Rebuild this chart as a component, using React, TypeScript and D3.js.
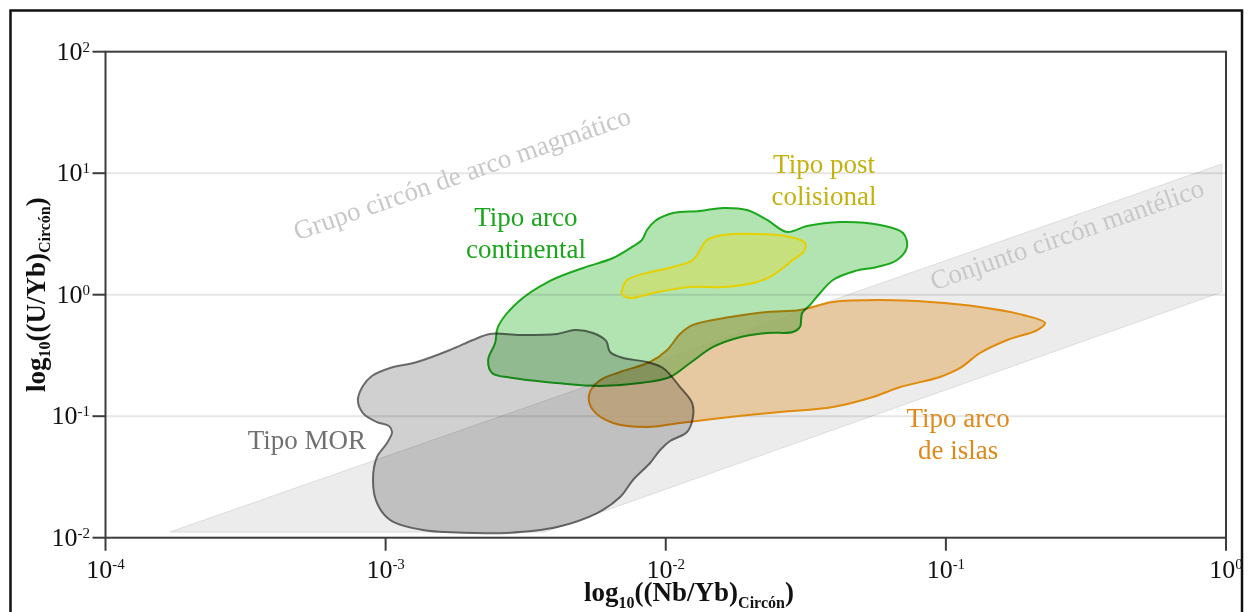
import React from 'react';
import * as d3 from 'd3';

const W = 1248;
const H = 612;
const FONT = '"Liberation Serif", "Times New Roman", serif';

// decade exponents for the axes
const xTickExps = [-4, -3, -2, -1, 0];
const yTickExps = [-2, -1, 0, 1, 2];
const gridExps = [-1, 0, 1];

// all outlines: [log10(Nb/Yb), log10(U/Yb)]
const bandOutline: [number, number][] = [
  [-3.77, -1.953], [-0.015, 1.075], [-0.015, 0.022], [-2.431, -1.953],
];

const morOutline: [number, number][] = [
  [-3.099, -0.867], [-3.081, -0.751], [-3.049, -0.669], [-2.984, -0.603], [-2.888, -0.554],
  [-2.770, -0.455], [-2.688, -0.373], [-2.627, -0.323], [-2.520, -0.332], [-2.388, -0.323],
  [-2.324, -0.291], [-2.260, -0.315], [-2.213, -0.381], [-2.199, -0.472], [-2.152, -0.521],
  [-2.067, -0.554], [-2.010, -0.603], [-1.949, -0.760], [-1.906, -0.891], [-1.903, -1.007],
  [-1.924, -1.130], [-1.985, -1.204], [-2.020, -1.278], [-2.056, -1.385], [-2.117, -1.525],
  [-2.163, -1.665], [-2.245, -1.797], [-2.388, -1.912], [-2.567, -1.961], [-2.688, -1.961],
  [-2.866, -1.937], [-2.984, -1.854], [-3.031, -1.714], [-3.045, -1.525], [-3.031, -1.336],
  [-2.995, -1.221], [-2.977, -1.130], [-2.988, -1.081], [-3.031, -1.048], [-3.081, -0.974],
];

const continentalOutline: [number, number][] = [
  [-2.599, -0.266], [-2.531, -0.068], [-2.413, 0.113], [-2.295, 0.220], [-2.188, 0.302],
  [-2.120, 0.393], [-2.085, 0.450], [-2.067, 0.533], [-2.038, 0.607], [-1.974, 0.672],
  [-1.878, 0.689], [-1.795, 0.714], [-1.710, 0.697], [-1.638, 0.615], [-1.567, 0.516],
  [-1.496, 0.565], [-1.378, 0.598], [-1.235, 0.574], [-1.153, 0.508], [-1.139, 0.393],
  [-1.174, 0.286], [-1.246, 0.228], [-1.324, 0.195], [-1.403, 0.121], [-1.449, 0.014],
  [-1.485, -0.085], [-1.513, -0.151], [-1.521, -0.266], [-1.546, -0.307], [-1.638, -0.315],
  [-1.745, -0.356], [-1.831, -0.430], [-1.913, -0.562], [-1.985, -0.677], [-2.092, -0.727],
  [-2.235, -0.751], [-2.388, -0.727], [-2.545, -0.686], [-2.620, -0.644], [-2.634, -0.537],
  [-2.609, -0.398],
];

const postCollisionalOutline: [number, number][] = [
  [-2.156, 0.039], [-2.138, 0.121], [-2.067, 0.179], [-1.974, 0.228], [-1.903, 0.286],
  [-1.878, 0.368], [-1.853, 0.450], [-1.795, 0.491], [-1.674, 0.500], [-1.556, 0.475],
  [-1.503, 0.426], [-1.506, 0.360], [-1.546, 0.286], [-1.617, 0.162], [-1.674, 0.105],
  [-1.795, 0.063], [-1.913, 0.063], [-2.045, 0.014], [-2.127, -0.027], [-2.156, 0.006],
];

const islandArcOutline: [number, number][] = [
  [-2.274, -0.826], [-2.238, -0.710], [-2.163, -0.636], [-2.056, -0.554], [-1.995, -0.455],
  [-1.949, -0.323], [-1.903, -0.249], [-1.770, -0.184], [-1.638, -0.142], [-1.521, -0.126],
  [-1.403, -0.060], [-1.235, -0.044], [-1.056, -0.060], [-0.878, -0.101], [-0.724, -0.167],
  [-0.646, -0.233], [-0.674, -0.291], [-0.781, -0.373], [-0.878, -0.480], [-0.949, -0.603],
  [-1.021, -0.677], [-1.163, -0.760], [-1.260, -0.842], [-1.403, -0.924], [-1.592, -0.965],
  [-1.770, -1.007], [-1.949, -1.056], [-2.067, -1.089], [-2.188, -1.056], [-2.260, -0.949],
];

// field labels: text lines and anchor in log10 units
const fieldLabels = [
  { lines: ['Tipo MOR'], at: [-3.281, -1.270], color: '#707070' },
  { lines: ['Tipo arco', 'continental'], at: [-2.499, 0.565], color: '#1aa51a' },
  { lines: ['Tipo post', 'colisional'], at: [-1.435, 1.002], color: '#c3b10f' },
  { lines: ['Tipo arco', 'de islas'], at: [-0.956, -1.089], color: '#e0891a' },
];

const bandLabels = [
  { text: 'Grupo circón de arco magmático', at: [-2.717, 0.928] },
  { text: 'Conjunto circón mantélico', at: [-0.557, 0.426] },
];

export default function App() {
  const left = 105.5, right = 1226, top = 51.7, bottom = 537.7;
  const x = d3.scaleLog().domain([1e-4, 1]).range([left, right]);
  const y = d3.scaleLog().domain([1e-2, 1e2]).range([bottom, top]);
  const px = (p: number[]) => [x(Math.pow(10, p[0])), y(Math.pow(10, p[1]))] as [number, number];

  const closed = d3.line<[number, number]>()
    .x((d) => px(d)[0])
    .y((d) => px(d)[1])
    .curve(d3.curveCatmullRomClosed.alpha(0.5));
  const poly = d3.line<[number, number]>()
    .x((d) => px(d)[0])
    .y((d) => px(d)[1])
    .curve(d3.curveLinearClosed);

  const b0 = px(bandOutline[0]);
  const b1 = px(bandOutline[1]);
  const angle = (Math.atan2(b1[1] - b0[1], b1[0] - b0[0]) * 180) / Math.PI;

  return (
    <svg
      width={W}
      height={H}
      style={{ position: 'absolute', left: 0, top: 0, fontFamily: FONT }}
    >
      <rect x={0} y={0} width={W} height={H} fill="#ffffff" />
      <rect x={10.5} y={10.5} width={1231.5} height={640} fill="none" stroke="#111" strokeWidth={2.5} />

      {gridExps.map((e) => (
        <line key={'g' + e} x1={left} x2={right} y1={y(Math.pow(10, e))} y2={y(Math.pow(10, e))}
          stroke="#e6e6e6" strokeWidth={2} />
      ))}

      <path d={poly(bandOutline) || ''} fill="#ececec" stroke="#dcdcdc" strokeWidth={1}
        style={{ mixBlendMode: 'multiply' }} />

      {bandLabels.map((l, i) => {
        const p = px(l.at);
        return (
          <text key={'bl' + i} transform={`translate(${p[0]},${p[1]}) rotate(${angle})`}
            textAnchor="middle" fontSize={27} fill="#c8c8c8">{l.text}</text>
        );
      })}

      <path d={closed(islandArcOutline) || ''} fill="#e5c393" fillOpacity={0.85}
        stroke="#e08a0e" strokeWidth={2} />
      <path d={closed(morOutline) || ''} fill="#d0d0d0" stroke="#6a6a6a" strokeWidth={2}
        style={{ mixBlendMode: 'multiply' }} />
      <path d={closed(continentalOutline) || ''} fill="#b2e4b2" stroke="#1ca81c" strokeWidth={2}
        style={{ mixBlendMode: 'multiply' }} />
      <path d={closed(postCollisionalOutline) || ''} fill="#d5dd50" fillOpacity={0.55}
        stroke="#e6d000" strokeWidth={2} />

      {fieldLabels.map((l, i) => {
        const p = px(l.at);
        return (
          <text key={'fl' + i} x={p[0]} y={p[1]} textAnchor="middle" fontSize={27} fill={l.color}>
            {l.lines.map((t, j) => (
              <tspan key={j} x={p[0]} dy={j === 0 ? 0 : 32}>{t}</tspan>
            ))}
          </text>
        );
      })}

      {/* plot frame */}
      <rect x={left} y={top} width={right - left} height={bottom - top} fill="none"
        stroke="#3c3c3c" strokeWidth={2} />

      {xTickExps.map((e) => {
        const xx = x(Math.pow(10, e));
        return (
          <g key={'xt' + e}>
            <line x1={xx} x2={xx} y1={bottom} y2={bottom + 13} stroke="#3c3c3c" strokeWidth={2} />
            <text x={xx} y={578} textAnchor="middle" fontSize={26} fill="#111">
              10<tspan fontSize={15} dy={-9}>{e === 0 ? '0' : String(e)}</tspan>
            </text>
          </g>
        );
      })}

      {yTickExps.map((e) => {
        const yy = y(Math.pow(10, e));
        return (
          <g key={'yt' + e}>
            <line x1={left - 13} x2={left} y1={yy} y2={yy} stroke="#3c3c3c" strokeWidth={2} />
            <text x={90} y={yy + 8} textAnchor="end" fontSize={26} fill="#111">
              10<tspan fontSize={15} dy={-8}>{e === 0 ? '0' : String(e)}</tspan>
            </text>
          </g>
        );
      })}

      <text x={689} y={601} textAnchor="middle" fontSize={27} fontWeight="bold" fill="#111">
        log<tspan fontSize={16} dy={7}>10</tspan>
        <tspan dy={-7}>((Nb/Yb)</tspan>
        <tspan fontSize={16} dy={7}>Circón</tspan>
        <tspan dy={-7}>)</tspan>
      </text>

      <text transform={`translate(45,${(top + bottom) / 2}) rotate(-90)`} textAnchor="middle"
        fontSize={27} fontWeight="bold" fill="#111">
        log<tspan fontSize={16} dy={5}>10</tspan>
        <tspan dy={-5}>((U/Yb)</tspan>
        <tspan fontSize={16} dy={5}>Circón</tspan>
        <tspan dy={-5}>)</tspan>
      </text>
    </svg>
  );
}
